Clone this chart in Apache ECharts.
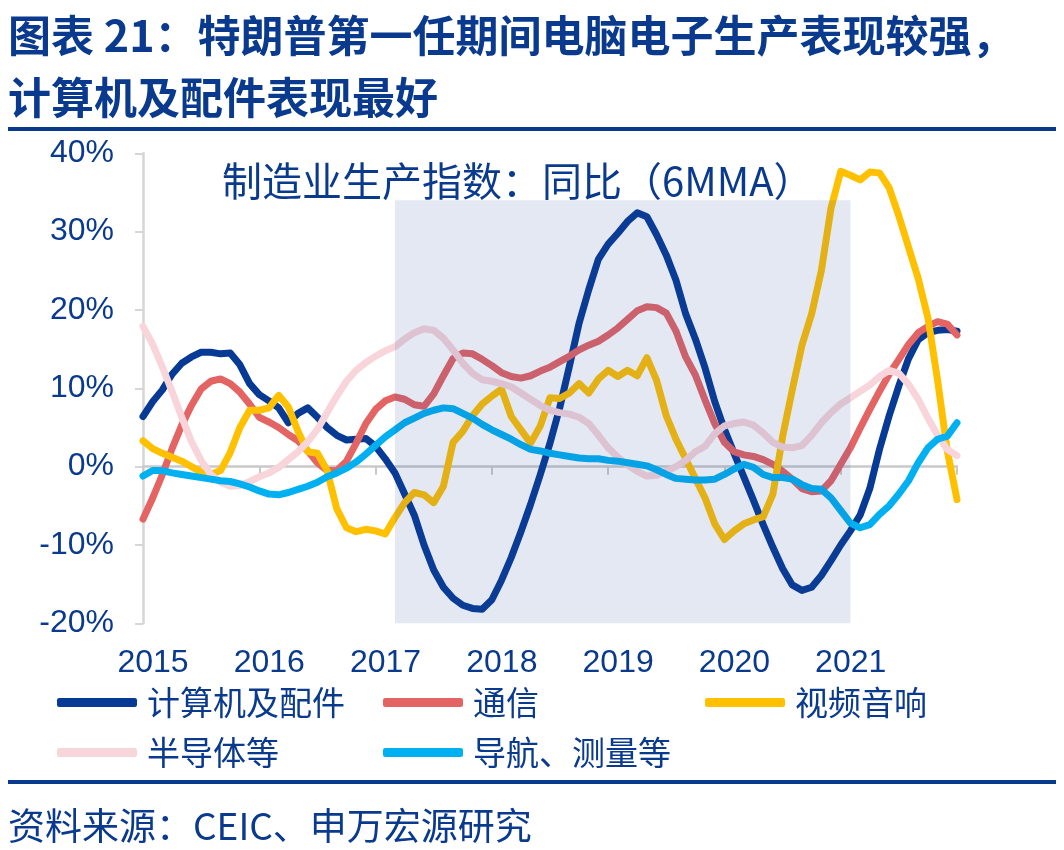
<!DOCTYPE html>
<html><head><meta charset="utf-8">
<script src="https://cdn.jsdelivr.net/npm/echarts@6/dist/echarts.min.js"></script>
<style>html,body{margin:0;padding:0;background:#fff}#c{width:1064px;height:850px}</style>
</head><body><div id="c"></div>
<script>
// Monthly categories 2015-01 .. 2022-01
const months = [];
for (let y = 2015; y <= 2022; y++) {
  for (let m = 1; m <= 12; m++) {
    if (y === 2022 && m > 1) break;
    months.push(y + '-' + String(m).padStart(2, '0'));
  }
}
const yearLabels = ['2015','2016','2017','2018','2019','2020','2021'];
const yTicks = [-20, -10, 0, 10, 20, 30, 40];
const seriesNames = ['计算机及配件','通信','视频音响','半导体等','导航、测量等'];
const shadeRange = ['2017-03', '2021-02'];

const computer = [6.4,8.3,9.8,11.8,13.2,14.0,14.6,14.6,14.4,14.5,13.0,10.6,9.2,8.4,7.5,5.6,6.8,7.5,6.3,5.0,4.0,3.4,3.5,3.6,2.6,1.0,-0.8,-3.5,-6.2,-10.0,-13.2,-15.4,-16.8,-17.7,-18.1,-18.2,-17.0,-14.5,-11.6,-8.3,-4.8,-1.0,3.0,7.5,12.8,18.3,22.6,26.5,28.4,29.8,31.3,32.4,31.9,29.6,27.0,23.8,19.5,16.3,12.6,8.3,4.75,1.7,-1.3,-4.3,-7.4,-10.3,-13.0,-15.1,-15.8,-15.4,-13.9,-12.0,-10.0,-8.2,-6.2,-2.8,2.2,6.5,10.3,13.8,16.2,17.1,17.4,17.5,17.3];
const telecom = [-6.7,-4.0,-1.0,2.3,5.3,7.8,9.9,10.9,11.2,10.6,9.5,8.0,6.3,5.7,5.0,4.1,3.3,2.0,0.5,-0.5,-0.5,0.7,3.0,5.5,7.3,8.4,8.9,8.6,7.9,7.7,9.3,11.6,13.8,14.5,14.4,13.7,12.9,12.0,11.5,11.3,11.6,12.2,12.7,13.4,14.1,14.9,15.5,16.0,16.8,17.7,18.8,19.9,20.4,20.3,19.6,17.3,14.0,11.7,8.5,5.5,3.1,1.9,1.5,1.3,0.9,0.3,-0.6,-1.6,-2.8,-3.2,-3.1,-1.8,0.3,2.4,4.9,7.3,9.6,11.8,13.7,15.6,17.1,17.9,18.5,18.2,16.8];
const audioVideo = [3.3,2.3,1.7,1.2,0.7,0.0,-0.7,-1.0,-0.5,1.8,5.0,7.2,7.2,7.5,9.1,7.6,4.5,1.9,1.7,-0.5,-5.4,-7.8,-8.3,-8.0,-8.2,-8.6,-6.5,-4.6,-3.3,-3.6,-4.6,-2.5,3.1,4.5,6.5,8.0,9.0,9.9,6.4,4.7,3.0,5.2,8.8,8.7,9.4,10.6,9.4,11.2,12.3,11.5,12.3,11.6,13.9,11.0,6.5,3.5,1.0,-1.5,-4.0,-7.3,-9.3,-8.2,-7.3,-6.8,-6.4,-3.5,3.8,9.8,15.5,19.5,25.0,33.0,37.7,37.2,36.6,37.6,37.5,35.6,32.0,28.0,24.0,19.0,11.0,2.0,-4.2];
const semis = [17.9,15.6,12.7,9.6,6.3,3.2,0.8,-1.0,-2.0,-2.5,-2.4,-1.9,-1.3,-0.8,-0.1,0.9,1.9,3.2,4.75,6.9,9.0,10.9,12.3,13.3,14.1,14.8,15.3,16.3,17.1,17.6,17.4,16.4,14.9,13.2,11.9,11.1,10.9,10.6,10.2,9.4,8.6,7.8,7.2,6.9,6.7,6.3,5.5,4.0,2.4,1.2,0.2,-0.6,-1.2,-1.1,-0.6,0.0,0.8,1.9,2.6,4.2,5.2,5.5,5.7,5.3,4.3,3.1,2.5,2.4,2.7,4.0,5.6,6.9,8.0,8.8,9.6,10.4,11.5,12.3,11.9,10.5,8.6,6.2,4.0,2.2,1.4];
const navigation = [-1.2,-0.5,-0.5,-0.8,-1.0,-1.2,-1.4,-1.6,-1.8,-1.9,-2.2,-2.6,-3.1,-3.5,-3.6,-3.3,-2.9,-2.5,-2.0,-1.3,-0.8,-0.2,0.6,1.6,2.7,3.8,4.7,5.6,6.2,6.8,7.2,7.5,7.4,6.8,6.2,5.4,4.7,4.1,3.5,2.8,2.2,2.0,1.7,1.5,1.3,1.1,1.0,1.0,0.8,0.7,0.5,0.3,0.1,-0.4,-1.0,-1.5,-1.6,-1.7,-1.7,-1.6,-1.0,-0.3,0.3,-0.1,-1.0,-1.4,-1.4,-1.6,-2.3,-2.8,-2.9,-4.0,-5.6,-7.2,-7.8,-7.4,-6.1,-5.0,-3.5,-1.8,0.5,2.4,3.5,3.9,5.6];

const colors = ['#063A95', '#E46464', '#FFC000', '#F8D5DA', '#00B0F0'];
const values = [computer, telecom, audioVideo, semis, navigation];
const navy = '#0A3A8E';
const cjk = '"Noto Sans CJK SC", "Noto Sans", sans-serif';
const latin = '"Liberation Sans", Arial, sans-serif';

const chart = echarts.init(document.getElementById('c'));

const lineSeries = seriesNames.map((n, k) => ({
  name: n, type: 'line', data: values[k], xAxisIndex: 0, yAxisIndex: 0,
  showSymbol: false, symbol: 'none', smooth: false,
  lineStyle: { color: colors[k], width: 7, cap: 'round', join: 'round' },
  itemStyle: { color: colors[k] }, z: 2 + k * 0.01
}));

lineSeries.push({
  name: 'shade', type: 'line', data: [], xAxisIndex: 0, yAxisIndex: 0, z: 10,
  markArea: {
    silent: true, z: 10,
    itemStyle: { color: 'rgba(40,80,160,0.13)' },
    data: [[{ xAxis: shadeRange[0], yAxis: 34 }, { xAxis: shadeRange[1], yAxis: -20.6 }]]
  }
});

const legendPos = [
  { left: 57, top: 686 }, { left: 383, top: 686 }, { left: 705, top: 686 },
  { left: 57, top: 736 }, { left: 383, top: 736 }
];
const legends = seriesNames.map((n, k) => ({
  data: [n], left: legendPos[k].left, top: legendPos[k].top, padding: 0,
  icon: 'roundRect', itemWidth: 80, itemHeight: 9,
  textStyle: { fontSize: 33, color: navy, fontFamily: cjk, padding: [0, 0, 0, 5] },
  selectedMode: false
}));

chart.setOption({
  backgroundColor: '#fff',
  animation: false,
  grid: { left: 143, right: 107, top: 153.3, bottom: 226.7, containLabel: false },
  legend: legends,
  xAxis: [
    {
      type: 'category', data: months, boundaryGap: false, position: 'bottom',
      axisLine: { show: false, onZero: false }, axisTick: { show: false },
      axisLabel: {
        interval: 11, fontSize: 32, color: navy, fontFamily: latin, margin: 24,
        padding: [0, 0, 0, 20],
        formatter: (v, idx) => yearLabels[Math.round(idx / 12)] || ''
      },
      splitLine: { show: false }
    },
    {
      type: 'category', data: months, boundaryGap: false, position: 'bottom',
      axisLine: { show: true, onZero: true, lineStyle: { color: '#C9C9C9', width: 2.5 } },
      axisTick: { show: true, interval: 11, length: 8, lineStyle: { color: '#C9C9C9', width: 2 } },
      axisLabel: { show: false }, splitLine: { show: false }
    }
  ],
  yAxis: {
    type: 'value', min: yTicks[0], max: yTicks[yTicks.length - 1], interval: 10,
    axisLine: { show: true, lineStyle: { color: '#D6D6D6', width: 2.5 } },
    axisTick: { show: true, length: 8, lineStyle: { color: '#D6D6D6', width: 2 } },
    axisLabel: { fontSize: 32, color: navy, fontFamily: latin, margin: 29, formatter: '{value}%' },
    splitLine: { show: false }
  },
  series: lineSeries,
  graphic: [
    { type: 'text', x: 8, y: 36, style: { text: '图表 21：特朗普第一任期间电脑电子生产表现较强，', font: 'bold 43px ' + cjk, fill: navy, verticalAlign: 'middle' } },
    { type: 'text', x: 8, y: 98, style: { text: '计算机及配件表现最好', font: 'bold 43px ' + cjk, fill: navy, verticalAlign: 'middle' } },
    { type: 'rect', shape: { x: 8, y: 127, width: 1048, height: 4 }, style: { fill: '#0A3A8E' } },
    { type: 'text', x: 222, y: 181, z: 20, style: { text: '制造业生产指数：同比（6MMA）', font: '40px ' + cjk, fill: navy, verticalAlign: 'middle' } },
    { type: 'rect', shape: { x: 8, y: 780, width: 1048, height: 4 }, style: { fill: '#0A3A8E' } },
    { type: 'text', x: 8, y: 826, style: { text: '资料来源：CEIC、申万宏源研究', font: '37px ' + cjk, fill: navy, verticalAlign: 'middle' } }
  ]
});
</script>
</body></html>
